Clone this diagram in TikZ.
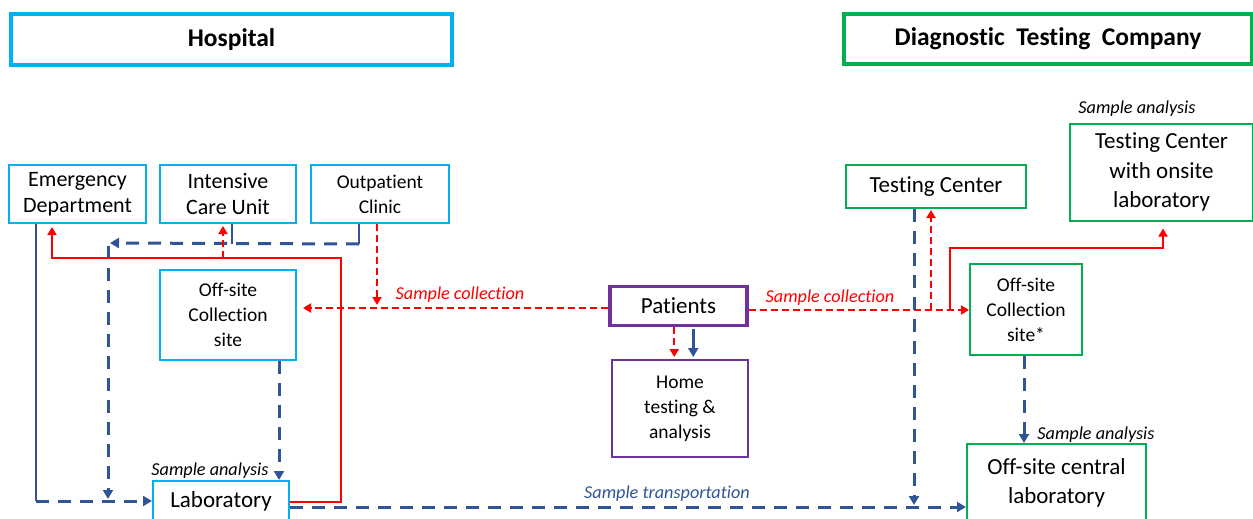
\documentclass[tikz,border=0pt]{standalone}
\usepackage{fontspec}
\setmainfont{Carlito}[Ligatures={NoCommon}]
\usetikzlibrary{arrows.meta,calc}
\definecolor{hcyan}{RGB}{0,176,240}
\definecolor{dgreen}{RGB}{0,176,80}
\definecolor{pviolet}{RGB}{112,48,160}
\definecolor{cblue}{RGB}{47,85,151}
\definecolor{cred}{RGB}{255,0,0}
\begin{document}
\begin{tikzpicture}[x=1pt,y=-1pt,
  box/.style={draw, line width=2pt, inner sep=0pt, align=center, text=black},
  small/.style={font=\fontsize{19.5}{25}\selectfont},
  mid/.style={font=\fontsize{22}{26}\selectfont},
  large/.style={font=\fontsize{23}{29.5}\selectfont},
  hdr/.style={draw, line width=3.5pt, inner sep=0pt, align=center,
    font=\fontsize{25.5}{30}\selectfont\bfseries},
  cyanbox/.style={box, draw=hcyan},
  greenbox/.style={box, draw=dgreen},
  violetbox/.style={box, draw=pviolet},
  lbl/.style={inner sep=0pt, font=\fontsize{18.2}{21}\selectfont\itshape},
  bsolid/.style={draw=cblue, line width=2.6pt},
  bdash/.style={draw=cblue, line width=3pt, dash pattern=on 13pt off 9pt},
  rsolid/.style={draw=cred, line width=1.8pt},
  rdash/.style={draw=cred, line width=2pt, dash pattern=on 7pt off 4pt},
  barrow/.style={-{Triangle[length=9pt,width=10pt]}},
  rarrow/.style={-{Triangle[length=8pt,width=9pt]}}
]
\useasboundingbox (0,0) rectangle (1253,519);

% ---- group headers
\node[hdr, draw=hcyan, minimum width=441pt, minimum height=51pt] (hosp) at (231.5,39.5) {Hospital};
\node[hdr, draw=dgreen, minimum width=408pt, minimum height=50pt] (dtc) at (1048,39)
  {Diagnostic\hspace{0.45em}Testing\hspace{0.45em}Company};

% ---- hospital units
\node[cyanbox, mid, minimum width=137pt, minimum height=58pt] (ed)  at (77.5,194) {Emergency\\Department};
\node[cyanbox, mid, minimum width=136pt, minimum height=58pt] (icu) at (228,194) {Intensive\\Care Unit};
\node[cyanbox, small, minimum width=138pt, minimum height=58pt] (opc) at (380,194) {Outpatient\\Clinic};
\node[cyanbox, small, minimum width=136pt, minimum height=90pt] (offh) at (228,315) {Off-site\\Collection\\site};
\node[cyanbox, large, minimum width=136pt, minimum height=40pt] (lab) at (221,501) {Laboratory};

% ---- patients
\node[violetbox, large, line width=3.5pt, minimum width=137pt, minimum height=39pt] (pat) at (678.5,306) {Patients};
\node[violetbox, small, minimum width=136pt, minimum height=97pt] (home) at (680,408.5) {Home\\testing \&\\analysis};

% ---- testing company
\node[greenbox, large, minimum width=180pt, minimum height=43pt] (tc) at (936,186.5) {Testing Center};
\node[greenbox, large, minimum width=183pt, minimum height=97pt] (tcl) at (1161.5,172) {Testing Center\\with onsite\\laboratory};
\node[greenbox, small, minimum width=112pt, minimum height=91pt] (offc) at (1026,309.5) {Off-site\\Collection\\site*};
\node[greenbox, large, minimum width=179pt, minimum height=78pt] (ocl) at (1056.5,483) {Off-site central\\laboratory};

% ---- labels
\node[lbl, text=cred] (scl) at (460,295) {Sample collection};
\node[lbl, text=cred] (scr) at (830,298) {Sample collection};
\node[lbl] (sal) at (210,471) {Sample analysis};
\node[lbl] (sar) at (1096,435) {Sample analysis};
\node[lbl] (sat) at (1137,109) {Sample analysis};
\node[lbl, text=cblue] (stl) at (667,494) {Sample transportation};

% ---- blue routes inside the hospital
\coordinate (edc) at ([xshift=28pt]ed.south west |- lab.west);
\draw[bsolid] ([xshift=28pt]ed.south west) -- (edc);
\draw[bdash, barrow] (edc) -- (lab.west);
\coordinate (hj) at (108,243);
\draw[bsolid] ([xshift=73pt]icu.south west) -- ++(0,20);
\draw[bsolid] ([xshift=49pt]opc.south west) -- ++(0,20) coordinate (opj);
\draw[bdash, barrow] (opj) -- ([xshift=2pt]hj);
\draw[bdash, barrow, shorten >=2pt] ([yshift=-3pt]hj) -- (hj |- edc);
\draw[bdash, barrow] ([xshift=120pt]offh.south west) -- ([xshift=120pt]offh.south west |- lab.north);

% ---- red routes inside the hospital
\coordinate (rt) at (341,258);
\draw[rsolid, rarrow] ([yshift=-1pt]lab.east) -| (rt) -| ([xshift=44pt,yshift=-3pt]ed.south west);
\draw[rdash, rarrow] ([xshift=64pt]icu.south west |- rt) -- ([xshift=64pt,yshift=-2pt]icu.south west);

% ---- sample collection from patients
\coordinate (pl) at ([yshift=-2pt]pat.west);
\coordinate (pr) at ([yshift=-4pt]pat.east);
\draw[rdash, rarrow, shorten >=6pt] (pl) -- (pl -| offh.east);
\draw[rdash, rarrow, shorten >=3pt] ([xshift=67pt]opc.south west) -- ([xshift=67pt]opc.south west |- pl);
\draw[rdash, rarrow] (pr) -- (pr -| offc.west);
\draw[rdash, rarrow, shorten >=1pt] ([xshift=86pt]tc.south west |- pr) -- ([xshift=86pt]tc.south west);
\coordinate (tr) at (1163,248);
\draw[rsolid, rarrow, shorten >=7pt] ([xshift=-19pt]pr -| offc.west) |- (tr) -- (tr |- tcl.south);

% ---- home testing
\draw[rdash, rarrow, shorten >=2pt] ([xshift=66pt]pat.south west) -- ([xshift=66pt]pat.south west |- home.north);
\draw[bsolid, barrow, shorten >=2pt] ([xshift=85pt,yshift=-2pt]pat.south west) -- ([xshift=85pt]pat.south west |- home.north);

% ---- testing company routes
\coordinate (tl) at ([yshift=-6pt]lab.east);
\draw[bdash, barrow] (tl) -- (tl -| ocl.west);
\draw[bdash, barrow, shorten >=2pt] ([xshift=69pt]tc.south west) -- ([xshift=69pt]tc.south west |- tl);
\draw[bdash, barrow] ([xshift=55pt]offc.south west) -- ([xshift=55pt]offc.south west |- ocl.north);
\end{tikzpicture}
\end{document}
